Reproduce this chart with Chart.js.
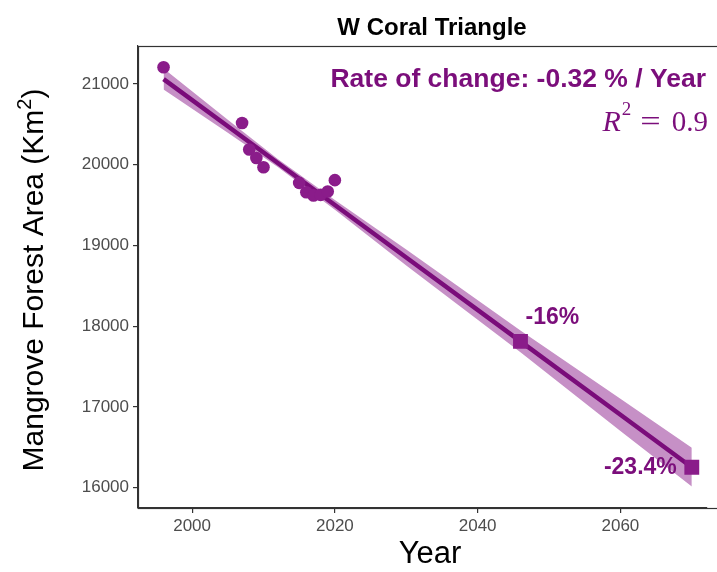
<!DOCTYPE html>
<html>
<head>
<meta charset="utf-8">
<script src="https://cdn.jsdelivr.net/npm/chart.js@4.4.1/dist/chart.umd.min.js"></script>
<style>
html,body{margin:0;padding:0;background:#fff;}
#wrap{width:717px;height:572px;position:relative;}
</style>
</head>
<body>
<div id="wrap"><canvas id="c" width="717" height="572"></canvas></div>
<script>
// Observed data
const years = [1996, 2007, 2008, 2009, 2010, 2015, 2016, 2017, 2018, 2019, 2020];
const area  = [21207, 20516, 20188, 20084, 19969, 19775, 19660, 19620, 19627, 19669, 19809];
// Fitted trend and confidence band
const fitYears = [1996, 2005, 2012, 2020, 2030, 2046, 2060, 2070];
const fitArea  = [21060, 20476, 20021, 19502, 18852, 17813, 16904, 16255];
const ciUpper  = [21190, 20556, 20071, 19562, 18952, 17948, 17104, 16495];
const ciLower  = [20930, 20396, 19971, 19442, 18752, 17678, 16704, 16015];
// Projections
const projYears  = [2046, 2070];
const projArea   = [17813, 16255];
const projLabels = ['-16%', '-23.4%'];
// Axis ticks
const xTicks = [2000, 2020, 2040, 2060];
const yTicks = [16000, 17000, 18000, 19000, 20000, 21000];

const PURPLE_TXT = '#7B0E7B';
const PT = '#8A1C8A';
const LINE = '#7A0C7A';
const BAND = '#C690C6';
const SANS = '"Liberation Sans", Arial, sans-serif';
const SERIF = '"Liberation Serif", "DejaVu Serif", serif';

const pts = (xs, ys) => xs.map((x, i) => ({x: x, y: ys[i]}));

const textPlugin = {
  id: 'texts',
  afterDraw(chart) {
    const ctx = chart.ctx;
    const a = chart.chartArea;
    const xs = chart.scales.x, ys = chart.scales.y;
    ctx.save();
    ctx.strokeStyle = '#333333';
    ctx.lineWidth = 1.2;
    ctx.strokeRect(a.left + 0.5, a.top + 0.5, 727 - a.left, a.bottom - a.top);
    ctx.textBaseline = 'middle';
    // title
    ctx.fillStyle = '#000';
    ctx.textAlign = 'center';
    ctx.font = 'bold 24px ' + SANS;
    ctx.fillText('W Coral Triangle', 432, 28);
    // x title
    ctx.font = '31px ' + SANS;
    ctx.fillText('Year', 430, 554);
    // y title with superscript
    ctx.save();
    ctx.translate(35, 280);
    ctx.rotate(-Math.PI / 2);
    const f1 = '30px ' + SANS;
    const f2 = '20px ' + SANS;
    ctx.font = f1;
    const p1 = 'Mangrove Forest Area (Km', p3 = ')';
    const w1 = ctx.measureText(p1).width, w3 = ctx.measureText(p3).width;
    ctx.font = f2;
    const w2 = ctx.measureText('2').width;
    const x0 = -(w1 + w2 + w3) / 2;
    ctx.textAlign = 'left';
    ctx.font = f1; ctx.fillText(p1, x0, 0);
    ctx.font = f2; ctx.fillText('2', x0 + w1, -10);
    ctx.font = f1; ctx.fillText(p3, x0 + w1 + w2, 0);
    ctx.restore();
    // rate annotation
    ctx.fillStyle = PURPLE_TXT;
    ctx.textAlign = 'right';
    ctx.font = 'bold 26.5px ' + SANS;
    ctx.fillText('Rate of change: -0.32 % / Year', 706, 80);
    // R^2 (math style)
    const fr = 'italic 30px ' + SERIF, fs = '19px ' + SERIF, fn = '29px ' + SERIF;
    ctx.textAlign = 'right';
    ctx.font = fn;
    ctx.fillText('0.9', 708, 123);
    const w09 = ctx.measureText('0.9').width;
    const eqRight = 708 - w09 - 11;
    const wEq = ctx.measureText('=').width;
    const eqS = 1.25;
    ctx.save();
    ctx.translate(eqRight - wEq * eqS, 123);
    ctx.scale(eqS, 1);
    ctx.textAlign = 'left';
    ctx.fillText('=', 0, 0);
    ctx.restore();
    const supRight = eqRight - wEq * eqS - 9;
    ctx.font = fs;
    ctx.fillText('2', supRight, 110);
    const wS = ctx.measureText('2').width;
    ctx.font = fr;
    ctx.fillText('R', supRight - wS - 1, 123);
    // projection labels
    ctx.font = 'bold 23px ' + SANS;
    const p0x = xs.getPixelForValue(projYears[0]), p0y = ys.getPixelForValue(projArea[0]);
    ctx.textAlign = 'left';
    ctx.fillText(projLabels[0], p0x + 5, p0y - 24);
    const p1x = xs.getPixelForValue(projYears[1]), p1y = ys.getPixelForValue(projArea[1]);
    ctx.textAlign = 'right';
    ctx.fillText(projLabels[1], p1x - 15, p1y);
    ctx.restore();
  }
};

new Chart(document.getElementById('c'), {
  type: 'scatter',
  data: {
    datasets: [
      { type: 'line', data: pts(fitYears, ciUpper), borderWidth: 0, pointRadius: 0, fill: false, order: 6, borderColor: 'rgba(0,0,0,0)' },
      { type: 'line', data: pts(fitYears, ciLower), borderWidth: 0, pointRadius: 0, fill: '-1', backgroundColor: BAND, order: 5, borderColor: 'rgba(0,0,0,0)' },
      { type: 'line', data: pts(fitYears, fitArea), borderColor: LINE, borderWidth: 4.5, pointRadius: 0, fill: false, order: 3 },
      { data: pts(projYears, projArea), pointStyle: 'rect', pointRadius: 10.5, backgroundColor: PT, borderWidth: 0, order: 2 },
      { data: pts(years, area), pointRadius: 6.3, backgroundColor: PT, borderWidth: 0, order: 1 }
    ]
  },
  options: {
    responsive: false,
    animation: false,
    events: [],
    layout: { padding: { left: 0, top: 46, right: 0, bottom: 0 } },
    plugins: { legend: { display: false }, tooltip: { enabled: false }, title: { display: false } },
    scales: {
      x: {
        type: 'linear', min: 1992.42, max: 2072.06,
        afterBuildTicks: s => { s.ticks = xTicks.map(v => ({value: v})); },
        afterFit: s => { s.height = 64; },
        grid: { display: true, drawOnChartArea: false, drawTicks: true, tickLength: 5, color: '#333333', lineWidth: 1.2 },
        border: { display: true, color: '#333333', width: 1.2 },
        ticks: { color: '#4D4D4D', font: { size: 17, family: SANS }, padding: 3, maxRotation: 0, autoSkip: false, callback: v => String(v) }
      },
      y: {
        type: 'linear', min: 15750, max: 21470,
        afterBuildTicks: s => { s.ticks = yTicks.map(v => ({value: v})); },
        afterFit: s => { s.width = 138; },
        grid: { display: true, drawOnChartArea: false, drawTicks: true, tickLength: 5, color: '#333333', lineWidth: 1.2 },
        border: { display: true, color: '#333333', width: 1.2 },
        ticks: { color: '#4D4D4D', font: { size: 17, family: SANS }, padding: 4, autoSkip: false, callback: v => String(v) }
      }
    }
  },
  plugins: [textPlugin]
});
</script>
</body>
</html>
